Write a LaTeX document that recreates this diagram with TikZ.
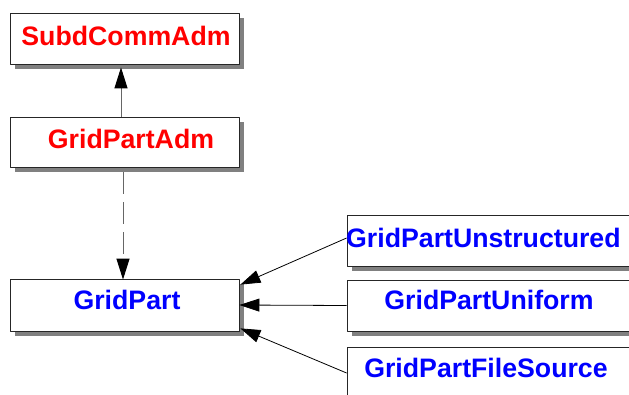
\documentclass[tikz,border=0pt]{standalone}
\usepackage{fontspec}
\setmainfont{Liberation Sans}
\usetikzlibrary{arrows.meta}
\usetikzlibrary{shadows}

\definecolor{admred}{RGB}{255,0,0}
\definecolor{partblue}{RGB}{0,0,255}
\definecolor{shadowgray}{RGB}{128,128,128}

\tikzset{
	classbox/.style={draw=black!85,line width=0.8pt,fill=white,inner sep=0pt,
		drop shadow={shadow xshift=5pt,shadow yshift=-5pt,fill=shadowgray,opacity=1}},
	classname/.style={inner sep=0pt,anchor=base,font=\fontsize{26.7}{30}\selectfont\bfseries},
	uses/.style={draw=black!60,line width=1pt,-{Triangle[length=21pt,width=13pt,color=black]}},
	inherits/.style={draw=black,line width=0.8pt,-{Triangle[length=20pt,width=13pt]}}
}

\begin{document}
\begin{tikzpicture}[x=1pt,y=-1pt,line join=round]
				\useasboundingbox (0,0) rectangle (629,394);
				\clip (0,0) rectangle (629,394);
				
				\node[classbox,minimum width=229pt,minimum height=51pt] (comm) at (124.5,38.5) {};
				\node[classname,text=admred] (commtxt) at (126,45) {SubdCommAdm};
				
				\node[classbox,minimum width=229pt,minimum height=50pt] (adm) at (124.5,142) {};
				\node[classname,text=admred] (admtxt) at (131,148) {GridPartAdm};
				
				\node[classbox,minimum width=229pt,minimum height=52pt] (gp) at (124.5,305) {};
				\node[classname,text=partblue] (gptxt) at (127,309) {GridPart};
				
				\node[classbox,minimum width=293pt,minimum height=51pt] (uns) at (493.5,240.5) {};
				\node[classname,text=partblue,anchor=base west] (unstxt) at (346,247) {GridPartUnstructured};
				
				\node[classbox,minimum width=293pt,minimum height=51pt] (uni) at (493.5,305.5) {};
				\node[classname,text=partblue] (unitxt) at (489,309) {GridPartUniform};
				
				\node[classbox,minimum width=293pt,minimum height=51pt] (fs) at (493.5,372.5) {};
				\node[classname,text=partblue] (fstxt) at (486,377) {GridPartFileSource};
				
				\draw[uses] ([xshift=-3.5pt]adm.north) -- ([xshift=-3.5pt,yshift=-3pt]comm.south);
				\draw[uses,dash pattern=on 22pt off 8pt] ([xshift=-1.5pt,yshift=-5pt]adm.south) -- ([xshift=-1.5pt,yshift=-1pt]gp.north);
				
				\draw[inherits] ([yshift=2.5pt]uns.west) -- ([xshift=1pt,yshift=-6pt]gp.north east);
				\draw[inherits] (uni.west) -- (gp.east);
				\draw[inherits] ([yshift=-0.5pt]fs.west) -- ([xshift=1pt,yshift=3pt]gp.south east);
			\end{tikzpicture}
\end{document}
